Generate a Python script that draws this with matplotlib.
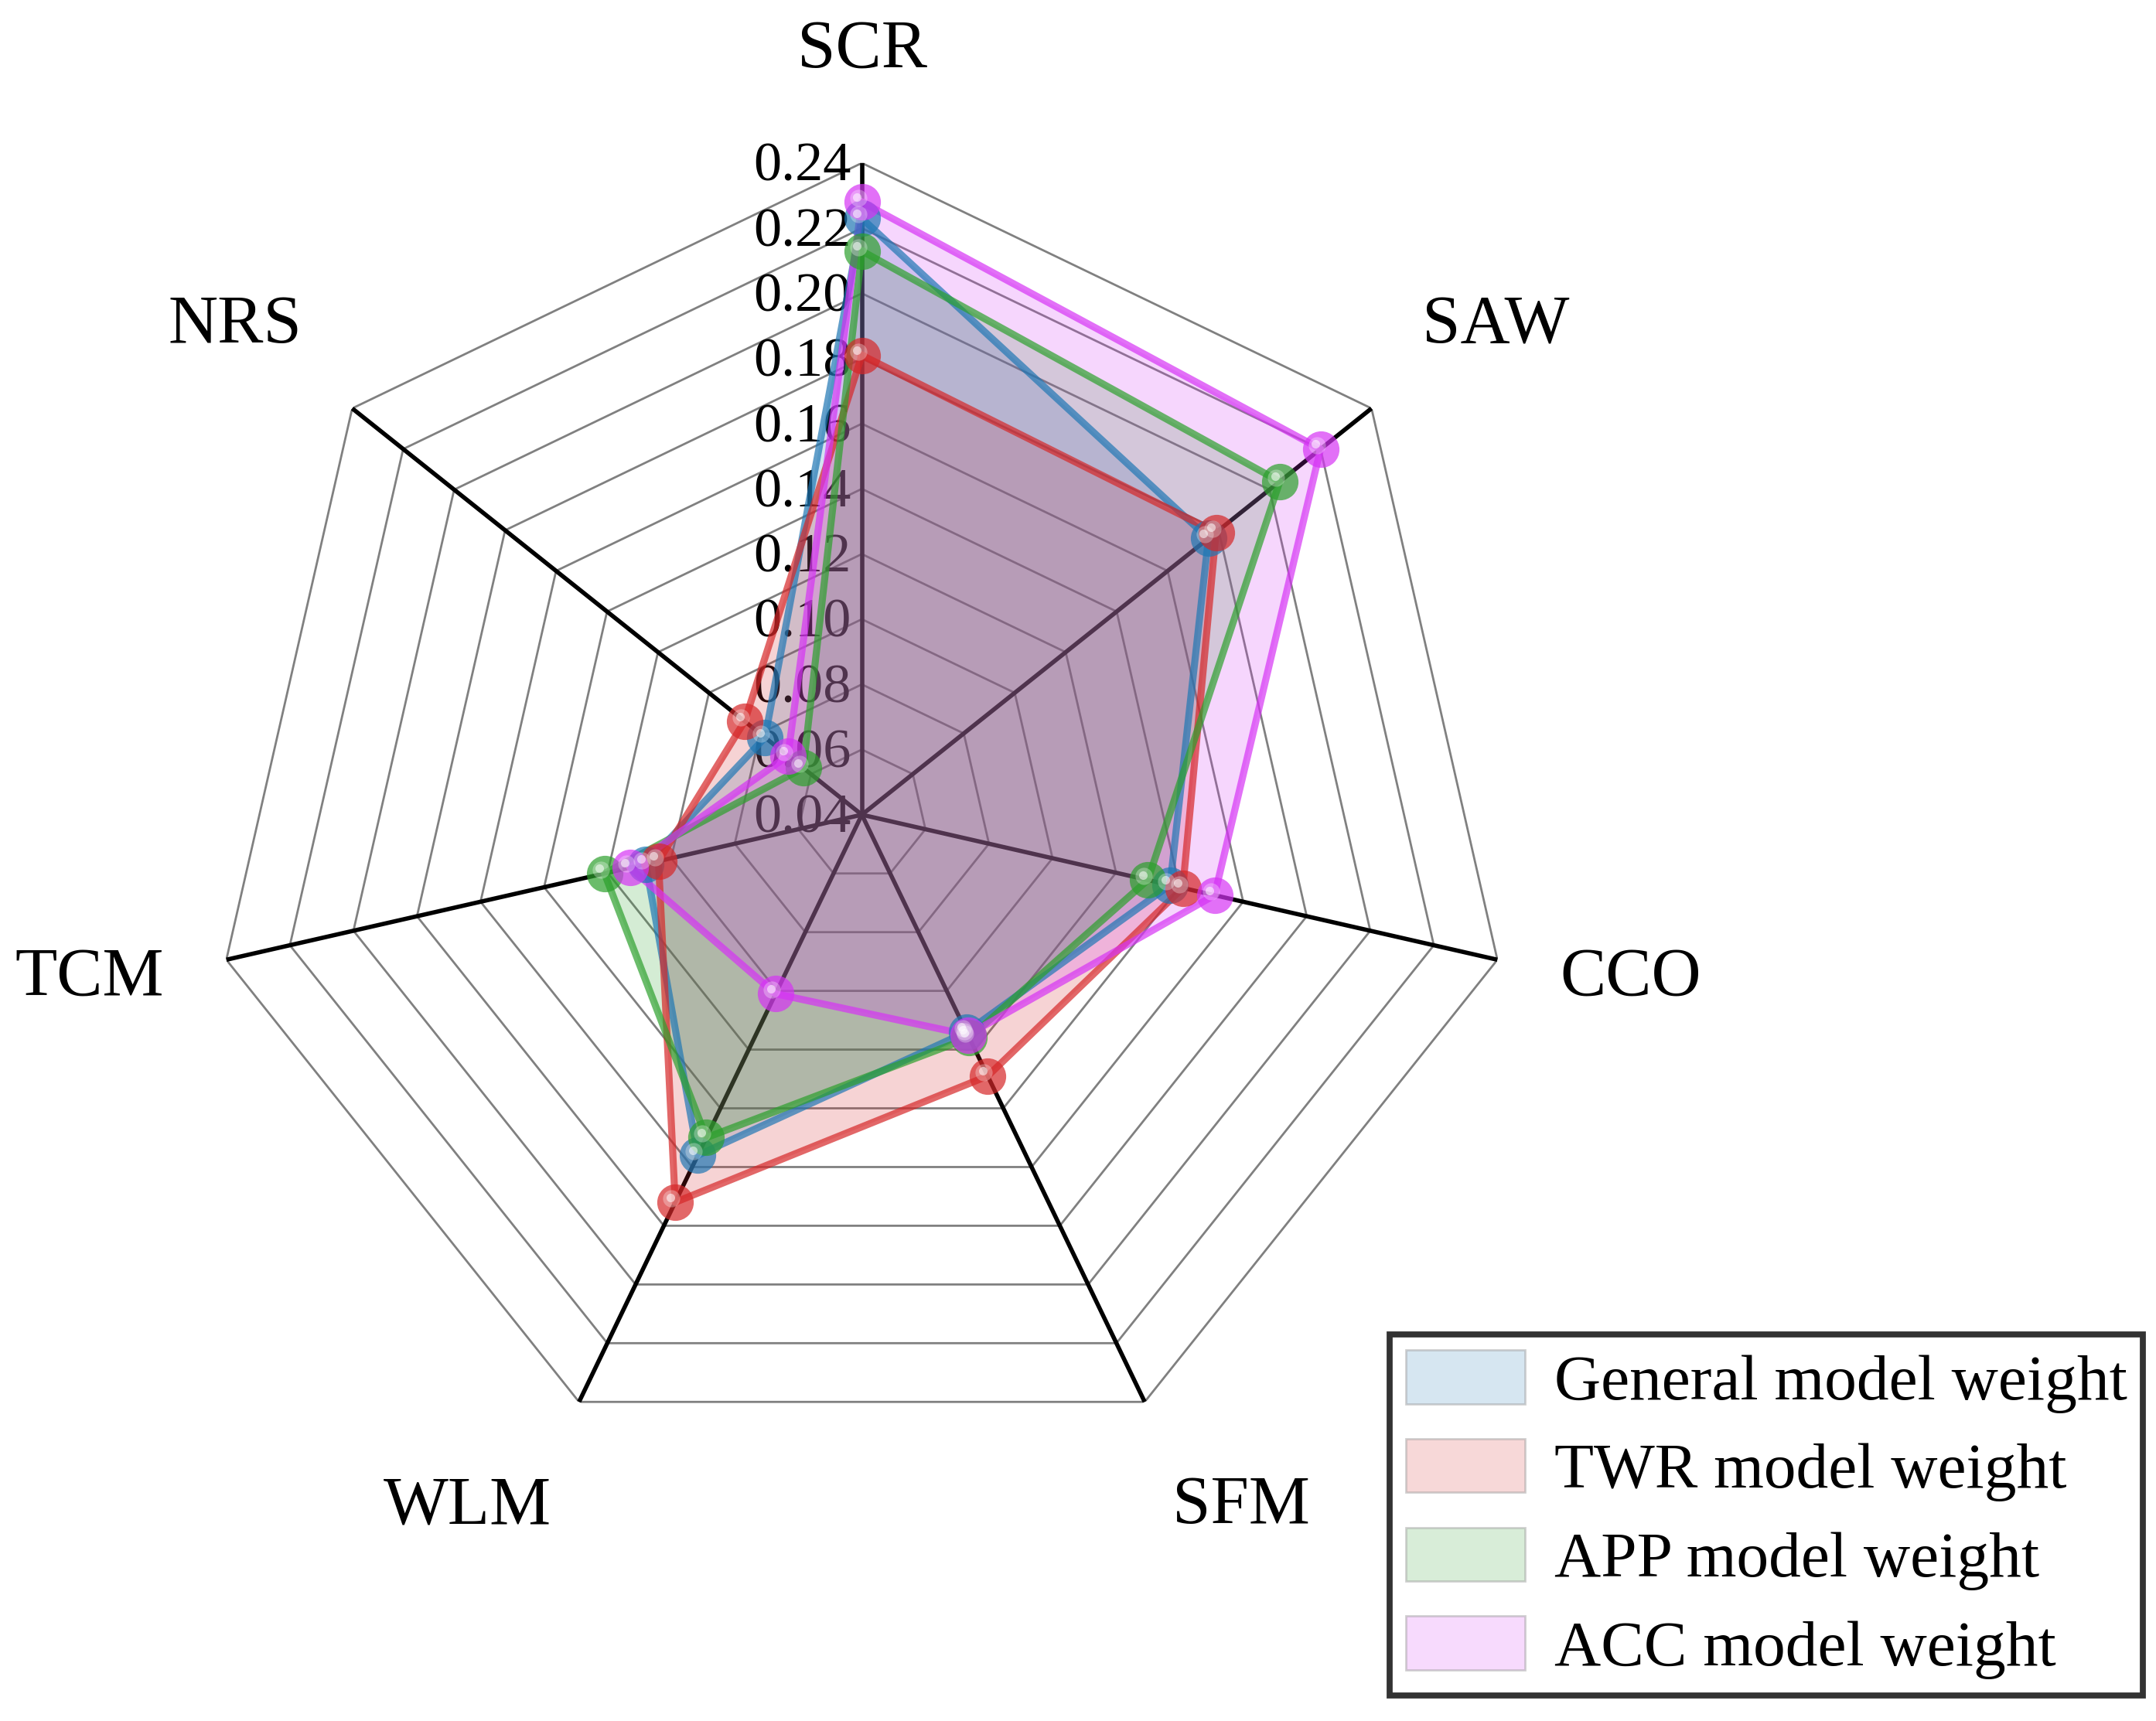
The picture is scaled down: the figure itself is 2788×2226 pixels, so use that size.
import numpy as np
import matplotlib
matplotlib.use("Agg")
import matplotlib.pyplot as plt
from matplotlib.patches import Patch
from matplotlib.transforms import offset_copy

# Indicator names (clockwise from the top)
categories = ["SCR", "SAW", "CCO", "SFM", "WLM", "TCM", "NRS"]

# Weights
general_w = [0.223, 0.176, 0.137, 0.114, 0.156, 0.108, 0.078]
twr_w = [0.181, 0.179, 0.141, 0.129, 0.172, 0.104, 0.086]
app_w = [0.213, 0.204, 0.130, 0.116, 0.150, 0.121, 0.063]
acc_w = [0.228, 0.220, 0.151, 0.115, 0.101, 0.113, 0.069]

series_labels = ["General model weight", "TWR model weight",
                 "APP model weight", "ACC model weight"]
colors = ["#1f77b4", "#d62728", "#2ca02c", "#d633f5"]

tick_values = [0.04, 0.06, 0.08, 0.10, 0.12, 0.14, 0.16, 0.18, 0.20, 0.22, 0.24]

plt.rcParams["font.family"] = ["Liberation Serif", "DejaVu Serif"]

fig = plt.figure(figsize=(13.94, 11.13), dpi=200)
ax = fig.add_axes([0.0974, 0.1479, 0.6047, 0.7574], polar=True)
ax.set_theta_offset(np.pi / 2)
ax.set_theta_direction(-1)
ax.set_ylim(tick_values[0], tick_values[-1])
ax.set_xticks([])
ax.set_yticks([])
ax.grid(False)
ax.spines["polar"].set_visible(False)
ax.patch.set_visible(False)

n = len(categories)
angles = np.linspace(0, 2 * np.pi, n, endpoint=False)
closed = np.concatenate([angles, angles[:1]])

# heptagon rings
for v in tick_values[1:]:
    ax.plot(closed, [v] * (n + 1), color="#808080", lw=1.0, zorder=1)
# spokes
for a in angles:
    ax.plot([a, a], [tick_values[0], tick_values[-1]], color="black", lw=2.0, zorder=1.2)

# radial tick labels along the SCR axis
for v in tick_values:
    ax.annotate(f"{v:.2f}", xy=(0, v), xytext=(-5, -2), textcoords="offset points",
                ha="right", va="center", fontsize=26, zorder=1.5)

# category labels
for a, name in zip(angles, categories):
    s, c = np.sin(a), np.cos(a)
    ha = "left" if s > 0.1 else ("right" if s < -0.1 else "center")
    va = "bottom" if c > 0.5 else ("top" if c < -0.5 else "center")
    ax.annotate(name, xy=(a, tick_values[-1]), xytext=(30 * s, 38 * c),
                textcoords="offset points", ha=ha, va=va, fontsize=32,
                annotation_clip=False)

hl = offset_copy(ax.transData, fig=fig, x=-1.8, y=1.8, units="points")
hl2 = offset_copy(ax.transData, fig=fig, x=-2.3, y=2.3, units="points")

for vals, col in zip([general_w, twr_w, app_w, acc_w], colors):
    r = np.concatenate([vals, vals[:1]])
    ax.fill(closed, r, color=col, alpha=0.2, lw=0, zorder=2)
    ax.plot(closed, r, color=col, lw=3.3, alpha=0.7, zorder=3)
    ax.plot(angles, vals, "o", color=col, ms=17, alpha=0.7, mec="none", zorder=4)
    ax.plot(angles, vals, "o", color="white", ms=8, alpha=0.3, mec="none",
            transform=hl, zorder=5)
    ax.plot(angles, vals, "o", color="white", ms=4, alpha=0.55, mec="none",
            transform=hl2, zorder=6)

handles = [Patch(facecolor=matplotlib.colors.to_rgba(c, 0.18),
                 edgecolor=(0.6, 0.6, 0.6, 0.45), lw=1) for c in colors]
leg = fig.legend(handles, series_labels, loc="lower right",
                 bbox_to_anchor=(0.994, 0.015), fontsize=30, frameon=True,
                 fancybox=False, handlelength=1.85, handleheight=0.9,
                 handletextpad=0.45, borderpad=0.25, labelspacing=0.4,
                 borderaxespad=0)
leg.get_frame().set_edgecolor("black")
leg.get_frame().set_linewidth(2.8)

fig.savefig("out.png", dpi=200, facecolor="white")
